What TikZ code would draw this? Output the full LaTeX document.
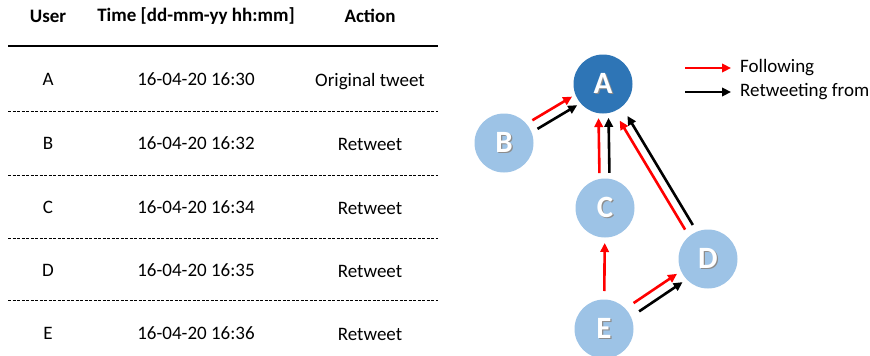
\documentclass[tikz,border=0pt]{standalone}
\usepackage{fontspec}
\setmainfont{Carlito}
\usetikzlibrary{calc,arrows.meta}
\definecolor{darkblue}{HTML}{2E75B6}
\definecolor{lightblue}{HTML}{9DC3E6}
\definecolor{linkred}{HTML}{FF0000}
\tikzset{
  cell/.style={font=\fontsize{19}{22}\selectfont, inner sep=0pt},
  headcell/.style={cell, font=\fontsize{19}{22}\selectfont\bfseries},
  rulesolid/.style={line width=1.4pt},
  ruledash/.style={line width=0.8pt, dash pattern=on 3pt off 1.5pt},
  user/.style={circle, minimum size=59pt, inner sep=0pt, fill=lightblue,
    font=\fontsize{31}{31}\selectfont\bfseries, text=white},
  root/.style={user, fill=darkblue},
  arr/.style={line width=2.6pt, -{Triangle[length=9pt,width=8.5pt]}},
}
% letter with a soft drop shadow
\newcommand\shadowed[1]{\makebox[0pt][l]{\kern1.2pt\raisebox{-1.2pt}{\color{black!45}#1}}#1}
% one arrow from #1 to #2, shifted sideways by #3, trimmed by #4 and #5
\newcommand\linkarrow[6]{%
  \draw[arr,#6,shorten <=#4,shorten >=#5]
    ($(#1.center)!#3!90:(#2.center)$) -- ($(#2.center)!#3!-90:(#1.center)$);}
\begin{document}
\begin{tikzpicture}[x=1pt,y=-1pt]
\useasboundingbox (0,0) rectangle (870,356);

% table header
\node[headcell] (hUser) at (48,16) {User};
\node[headcell] (hTime) at (196,16) {Time [dd-mm-yy hh:mm]};
\node[headcell] (hAction) at (370,16) {Action};
\draw[rulesolid] (8,46) -- (438,46);

% table rows
\foreach \u/\t/\a/\y in {A/16-04-20 16:30/Original tweet/79,
                         B/16-04-20 16:32/Retweet/143,
                         C/16-04-20 16:34/Retweet/207,
                         D/16-04-20 16:35/Retweet/270,
                         E/16-04-20 16:36/Retweet/333}{
  \node[cell] (u\u) at (48,\y) {\u};
  \node[cell] (t\u) at (196,\y) {\t};
  \node[cell,text depth=0pt] (a\u) at (370,\y) {\strut\a};
}
\foreach \y in {111,175,238,300}
  \draw[ruledash] (8,\y) -- (438,\y);

% users
\node[root] (A) at (603,84) {\shadowed{A}};
\node[user] (B) at (504,143) {\shadowed{B}};
\node[user] (C) at (605,208) {\shadowed{C}};
\node[user] (D) at (708,259) {\shadowed{D}};
\node[user] (E) at (604,329) {\shadowed{E}};

% following (red) and retweeting (black) links
\linkarrow{B}{A}{5pt}{36pt}{33pt}{linkred}
\linkarrow{B}{A}{-5pt}{36pt}{33pt}{black}
\linkarrow{C}{A}{5pt}{35pt}{34pt}{linkred}
\linkarrow{C}{A}{-5pt}{35pt}{34pt}{black}
\linkarrow{D}{A}{4.5pt}{37pt}{40pt}{linkred}
\linkarrow{D}{A}{-4.5pt}{37pt}{40pt}{black}
\linkarrow{E}{C}{0pt}{38pt}{35pt}{linkred}
\linkarrow{E}{D}{5pt}{39pt}{34pt}{linkred}
\linkarrow{E}{D}{-5pt}{39pt}{34pt}{black}

% legend
\coordinate (lf1) at (685,68);
\coordinate (lf2) at (731,68);
\coordinate (lr1) at (685,92);
\coordinate (lr2) at (731,92);
\draw[arr,linkred] (lf1) -- (lf2);
\draw[arr,black] (lr1) -- (lr2);
\node[cell, anchor=west] (lfoll) at (740,68) {Following};
\node[cell, anchor=west] (lret) at (740,92) {Retweeting from};
\end{tikzpicture}
\end{document}
